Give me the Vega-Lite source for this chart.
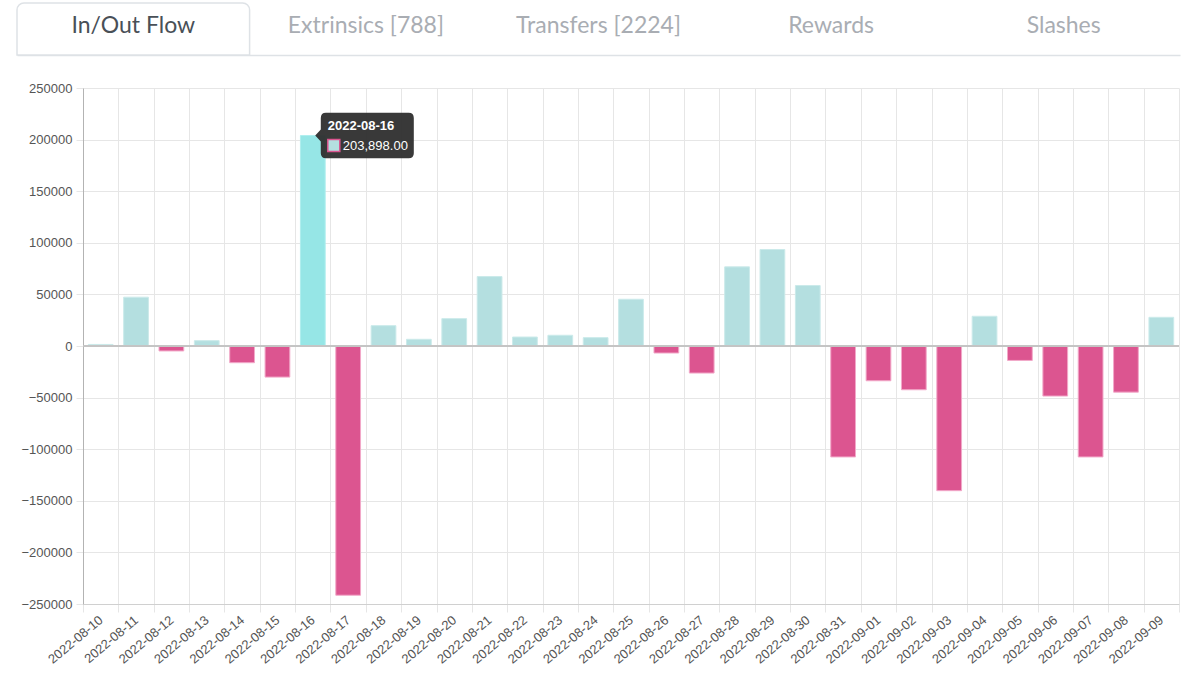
{
  "$schema": "https://vega.github.io/schema/vega-lite/v6.json",
  "description": "In/Out Flow by day",
  "padding": {"left": 16, "top": 2, "right": 0, "bottom": 0},
  "spacing": 26,
  "config": {"view": {"stroke": null}, "font": "Liberation Sans"},
  "datasets": {
    "tabs": [
      {"tab": "In/Out Flow", "state": "active"},
      {"tab": "Extrinsics [788]", "state": "inactive"},
      {"tab": "Transfers [2224]", "state": "inactive"},
      {"tab": "Rewards", "state": "inactive"},
      {"tab": "Slashes", "state": "inactive"}
    ],
    "flow": [
      {"date": "2022-08-10", "value": 1500},
      {"date": "2022-08-11", "value": 47300},
      {"date": "2022-08-12", "value": -4800},
      {"date": "2022-08-13", "value": 5200},
      {"date": "2022-08-14", "value": -16200},
      {"date": "2022-08-15", "value": -30100},
      {"date": "2022-08-16", "value": 203898},
      {"date": "2022-08-17", "value": -241500},
      {"date": "2022-08-18", "value": 19700},
      {"date": "2022-08-19", "value": 6500},
      {"date": "2022-08-20", "value": 26500},
      {"date": "2022-08-21", "value": 67300},
      {"date": "2022-08-22", "value": 8700},
      {"date": "2022-08-23", "value": 10400},
      {"date": "2022-08-24", "value": 8100},
      {"date": "2022-08-25", "value": 45300},
      {"date": "2022-08-26", "value": -6800},
      {"date": "2022-08-27", "value": -26200},
      {"date": "2022-08-28", "value": 76700},
      {"date": "2022-08-29", "value": 93500},
      {"date": "2022-08-30", "value": 58600},
      {"date": "2022-08-31", "value": -107500},
      {"date": "2022-09-01", "value": -33700},
      {"date": "2022-09-02", "value": -42400},
      {"date": "2022-09-03", "value": -140200},
      {"date": "2022-09-04", "value": 28800},
      {"date": "2022-09-05", "value": -14000},
      {"date": "2022-09-06", "value": -48500},
      {"date": "2022-09-07", "value": -107500},
      {"date": "2022-09-08", "value": -44700},
      {"date": "2022-09-09", "value": 27800}
    ]
  },
  "vconcat": [
    {
      "width": 1096,
      "height": 52,
      "data": {"name": "tabs"},
      "encoding": {
        "x": {
          "field": "tab",
          "type": "nominal",
          "sort": null,
          "scale": {"paddingInner": 0, "paddingOuter": 0, "range": [-66, 1097]},
          "axis": {"title": null, "labels": false, "ticks": false, "grid": false, "domainColor": "#dee2e6", "domainWidth": 1.5}
        }
      },
      "layer": [
        {
          "transform": [{"filter": "datum.state === 'active'"}],
          "mark": {"type": "bar", "fill": "white", "stroke": "#dee2e6", "strokeWidth": 1.5, "cornerRadiusTopLeft": 7, "cornerRadiusTopRight": 7, "width": {"band": 1}}
        },
        {
          "mark": {"type": "text", "font": "Lato", "fontSize": 23, "dy": -3},
          "encoding": {
            "text": {"field": "tab"},
            "color": {
              "field": "state",
              "type": "nominal",
              "scale": {"domain": ["active", "inactive"], "range": ["#495057", "#a9adb3"]},
              "legend": null
            }
          }
        }
      ]
    },
    {
      "width": 1096,
      "height": 516,
      "data": {"name": "flow"},
      "layer": [
        {
          "mark": {"type": "bar", "width": {"band": 0.7}, "strokeWidth": 1},
          "encoding": {
            "x": {
              "field": "date",
              "type": "ordinal",
              "scale": {"paddingInner": 0, "paddingOuter": 0},
              "axis": {
                "title": null,
                "tickBand": "extent",
                "grid": true,
                "gridColor": "#e6e6e6",
                "tickColor": "#e6e6e6",
                "tickSize": 8,
                "domainColor": "#d0d0d0",
                "labelAngle": -40,
                "labelAlign": "right",
                "labelBaseline": "middle",
                "labelPadding": 6,
                "labelFont": "Liberation Sans",
                "labelFontSize": 13,
                "labelColor": "#555555"
              }
            },
            "y": {
              "field": "value",
              "type": "quantitative",
              "scale": {"domain": [-250000, 250000], "nice": false},
              "axis": {
                "title": null,
                "values": [-250000, -200000, -150000, -100000, -50000, 0, 50000, 100000, 150000, 200000, 250000],
                "format": "d",
                "grid": true,
                "gridColor": "#e6e6e6",
                "tickColor": "#e6e6e6",
                "tickSize": 7,
                "domainColor": "#b3b3b3",
                "labelPadding": 4,
                "labelFont": "Liberation Sans",
                "labelFontSize": 13,
                "labelColor": "#555555"
              }
            },
            "color": {
              "condition": [
                {"test": "datum.value < 0", "value": "#dc5590"},
                {"test": "datum.date === '2022-08-16'", "value": "#96e6e6"}
              ],
              "value": "#b4dfe0"
            },
            "stroke": {
              "condition": [
                {"test": "datum.value < 0", "value": "#f2a9c9"},
                {"test": "datum.date === '2022-08-16'", "value": "#aeeeee"}
              ],
              "value": "#cbeaea"
            }
          }
        },
        {
          "mark": {"type": "rule", "color": "#c4c4c4"},
          "encoding": {"y": {"datum": 0, "type": "quantitative"}}
        },
        {
          "transform": [{"filter": "datum.date === '2022-08-16'"}],
          "mark": {
            "type": "point",
            "shape": "M -0.89 -0.49 L 0.89 -0.49 Q 1 -0.49 1 -0.38 L 1 0.38 Q 1 0.49 0.89 0.49 L -0.89 0.49 Q -1 0.49 -1 0.38 L -1 0.13 L -1.12 0 L -1 -0.13 L -1 -0.38 Q -1 -0.49 -0.89 -0.49 Z",
            "size": 8649,
            "filled": true,
            "color": "#2e2e2e",
            "opacity": 0.95,
            "strokeWidth": 0,
            "xOffset": 54.5
          },
          "encoding": {
            "x": {"field": "date", "type": "ordinal"},
            "y": {"field": "value", "type": "quantitative"}
          }
        },
        {
          "transform": [{"filter": "datum.date === '2022-08-16'"}],
          "mark": {
            "type": "point",
            "shape": "square",
            "size": 144,
            "filled": true,
            "fill": "#b4dfe0",
            "stroke": "#dc5590",
            "strokeWidth": 1.5,
            "opacity": 1,
            "xOffset": 21,
            "yOffset": 10
          },
          "encoding": {
            "x": {"field": "date", "type": "ordinal"},
            "y": {"field": "value", "type": "quantitative"}
          }
        },
        {
          "transform": [{"filter": "datum.date === '2022-08-16'"}],
          "mark": {"type": "text", "align": "left", "baseline": "middle", "dx": 15, "dy": -10, "fontSize": 13, "fontWeight": "bold", "color": "white"},
          "encoding": {
            "x": {"field": "date", "type": "ordinal"},
            "y": {"field": "value", "type": "quantitative"},
            "text": {"field": "date"}
          }
        },
        {
          "transform": [{"filter": "datum.date === '2022-08-16'"}],
          "mark": {"type": "text", "align": "left", "baseline": "middle", "dx": 30, "dy": 10, "fontSize": 13, "color": "white"},
          "encoding": {
            "x": {"field": "date", "type": "ordinal"},
            "y": {"field": "value", "type": "quantitative"},
            "text": {"field": "value", "format": ",.2f"}
          }
        }
      ]
    }
  ]
}
